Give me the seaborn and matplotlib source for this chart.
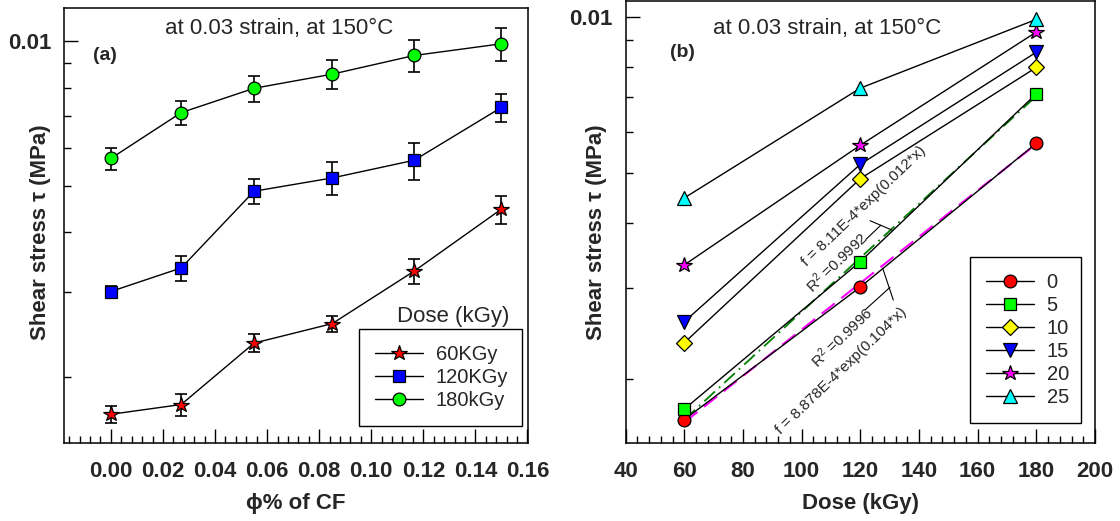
import numpy as np
import pandas as pd
import matplotlib
matplotlib.use("Agg")
import matplotlib.pyplot as plt
import seaborn as sns
from matplotlib.ticker import FixedLocator, MultipleLocator, LogLocator, NullFormatter, FixedFormatter

# ---------------- data ----------------
cf_content = [0.0, 0.027, 0.055, 0.085, 0.1165, 0.15]          # phi % of CF
stress_60 = [0.00167, 0.00175, 0.00235, 0.00258, 0.00332, 0.00447]
stress_120 = [0.00301, 0.00337, 0.00487, 0.00519, 0.00565, 0.00728]
stress_180 = [0.00570, 0.00710, 0.00798, 0.00854, 0.00934, 0.00988]
err_60 = [0.00007, 0.00009, 0.0001, 0.0001, 0.0002, 0.0003]
err_120 = [0.00008, 0.0002, 0.0003, 0.0004, 0.0005, 0.0005]
err_180 = [0.0003, 0.0004, 0.0005, 0.0006, 0.0007, 0.0008]
dose_labels_a = ["60KGy", "120KGy", "180kGy"]

doses = [60, 120, 180]
cf_labels_b = ["0", "5", "10", "15", "20", "25"]

fit_dose = [60, 180]
fit_0_vals = [0.00165, 0.00568]   # f = 8.878E-4*exp(0.104*x)
fit_5_vals = [0.00167, 0.00703]   # f = 8.11E-4*exp(0.012*x)

# ---------------- style ----------------
sns.set_theme(style="ticks")
plt.rcParams["font.family"] = ["Liberation Sans", "DejaVu Sans"]
plt.rcParams["mathtext.fontset"] = "custom"
plt.rcParams["mathtext.rm"] = "Liberation Sans"
plt.rcParams["mathtext.it"] = "Liberation Sans"
plt.rcParams["axes.linewidth"] = 1.1

fig = plt.figure(figsize=(11.2, 5.21), dpi=100)
axA = fig.add_axes([64 / 1120, 1 - 443.3 / 521, 464 / 1120, 435.3 / 521])
axB = fig.add_axes([625.7 / 1120, 1 - 443.3 / 521, 469.3 / 1120, 442.3 / 521])

TICK_FS = 16
LABEL_FS = 16
TXT_FS = 16
LEG_FS = 14.5


def style_axis(ax):
    ax.set_yscale("log")
    ax.yaxis.set_major_locator(FixedLocator([0.01]))
    ax.yaxis.set_major_formatter(FixedFormatter(["0.01"]))
    ax.yaxis.set_minor_locator(LogLocator(base=10, subs=np.arange(2, 10)))
    ax.yaxis.set_minor_formatter(NullFormatter())
    ax.tick_params(axis="both", which="both", direction="in", top=False, right=False,
                   color="black", width=1.0)
    ax.tick_params(axis="both", which="major", length=10)
    ax.tick_params(axis="both", which="minor", length=5)
    ax.tick_params(axis="x", which="major", pad=12.5, labelsize=TICK_FS)
    ax.tick_params(axis="y", which="major", pad=9.3, labelsize=TICK_FS)
    for sp in ax.spines.values():
        sp.set_color("black")
        sp.set_linewidth(1.1)
    ax.set_facecolor("white")


def bold_ticks(ax):
    for lab in ax.get_xticklabels() + ax.get_yticklabels():
        lab.set_fontweight("bold")


# ---------------- panel (a) ----------------
series_a = [
    (stress_60, err_60, "*", "#ff0000", 11.5),
    (stress_120, err_120, "s", "#0000ff", 8.7),
    (stress_180, err_180, "o", "#00ff00", 9.2),
]
for (vals, errs, mk, col, ms), lab in zip(series_a, dose_labels_a):
    axA.errorbar(cf_content, vals, yerr=errs, fmt="none", ecolor="black",
                 elinewidth=1.2, capsize=4.6, capthick=1.2, zorder=2)
    sns.lineplot(x=cf_content, y=vals, ax=axA, color="black", lw=1.0, marker=mk,
                 markersize=ms, markerfacecolor=col, markeredgecolor="black",
                 markeredgewidth=0.9, label=lab, zorder=3)

style_axis(axA)
axA.set_xlim(-0.018, 0.1602)
axA.set_ylim(0.001453, 0.01173)
xt = np.round(np.arange(0, 0.17, 0.02), 2)
axA.xaxis.set_major_locator(FixedLocator(xt))
axA.xaxis.set_major_formatter(FixedFormatter([f"{v:.2f}" for v in xt]))
axA.xaxis.set_minor_locator(MultipleLocator(0.004))
bold_ticks(axA)

axA.set_xlabel("ϕ% of CF", fontsize=LABEL_FS, fontweight="bold", labelpad=8)
axA.set_ylabel("Shear stress τ (MPa)", fontsize=LABEL_FS, fontweight="bold")
axA.yaxis.set_label_coords(-0.028, 0.4843)
axA.text(0.4629, 0.953, "at 0.03 strain, at 150°C", transform=axA.transAxes,
         ha="center", va="center", fontsize=TXT_FS)
axA.text(0.0884, 0.892, "(a)", transform=axA.transAxes, ha="center", va="center",
         fontsize=14, fontweight="bold")
axA.text(0.8377, 0.2908, "Dose (kGy)", transform=axA.transAxes, ha="center",
         va="center", fontsize=TXT_FS)
legA = axA.legend(loc="lower left", bbox_to_anchor=(0.6358, 0.0397, 0.3504, 0.2222),
                  mode="expand", fontsize=LEG_FS, frameon=True, fancybox=False,
                  edgecolor="black", framealpha=1, borderpad=0.8, labelspacing=0.2,
                  handlelength=2.4, handletextpad=0.6, borderaxespad=0)
legA.get_frame().set_linewidth(1.0)

# ---------------- panel (b) ----------------
markers_b = ["o", "s", "D", "v", "*", "^"]
colors_b = ["#ff0000", "#00ff00", "#ffff00", "#0000ff", "#ff00ff", "#00ffff"]
sizes_b = [9.2, 8.7, 8.4, 10.5, 11.5, 10.5]
stress_table = pd.DataFrame({"60": stress_60, "120": stress_120, "180": stress_180},
                            index=cf_labels_b)
for i, lab in enumerate(cf_labels_b):
    vals = stress_table.loc[lab].values
    sns.lineplot(x=doses, y=vals, ax=axB, color="black", lw=1.0, marker=markers_b[i],
                 markersize=sizes_b[i], markerfacecolor=colors_b[i],
                 markeredgecolor="black", markeredgewidth=0.9, label=lab, zorder=3)

axB.plot(fit_dose, fit_5_vals, color="#008000", lw=1.3, dashes=(8, 3, 1, 3), zorder=2.5)
axB.plot(fit_dose, fit_0_vals, color="#ff00ff", lw=1.5, dashes=(8, 4), zorder=2.5)

style_axis(axB)
axB.set_xlim(40, 200)
axB.set_ylim(0.001503, 0.01072)
axB.xaxis.set_major_locator(MultipleLocator(20))
axB.xaxis.set_minor_locator(MultipleLocator(4))
bold_ticks(axB)
axB.set_xlabel("Dose (kGy)", fontsize=LABEL_FS, fontweight="bold", labelpad=8)
axB.set_ylabel("Shear stress τ (MPa)", fontsize=LABEL_FS, fontweight="bold")
axB.yaxis.set_label_coords(-0.040, 0.4766)
axB.text(0.4287, 0.9383, "at 0.03 strain, at 150°C", transform=axB.transAxes,
         ha="center", va="center", fontsize=TXT_FS)
axB.text(0.1219, 0.8839, "(b)", transform=axB.transAxes, ha="center", va="center",
         fontsize=14, fontweight="bold")

ANN_FS = 11
ROT = 44
axB.text(0.5078, 0.5354, "f = 8.11E-4*exp(0.012*x)", transform=axB.transAxes,
         ha="center", va="center", rotation=ROT, rotation_mode="anchor", fontsize=ANN_FS)
axB.text(0.4502, 0.4099, "R$^{2}$ =0.9992", transform=axB.transAxes,
         ha="center", va="center", rotation=ROT, rotation_mode="anchor", fontsize=ANN_FS)
axB.text(0.4613, 0.2403, "R$^{2}$ =0.9996", transform=axB.transAxes,
         ha="center", va="center", rotation=ROT, rotation_mode="anchor", fontsize=ANN_FS)
axB.text(0.4590, 0.1635, "f = 8.878E-4*exp(0.104*x)", transform=axB.transAxes,
         ha="center", va="center", rotation=ROT, rotation_mode="anchor", fontsize=ANN_FS)

leaders = [
    ((0.5206, 0.5033), (0.5668, 0.4823)),
    ((0.5120, 0.4612), (0.5434, 0.4929)),
    ((0.5476, 0.3957), (0.5702, 0.3240)),
    ((0.5099, 0.3014), (0.5632, 0.3527)),
]
for p0, p1 in leaders:
    axB.annotate("", xy=p1, xytext=p0, xycoords="axes fraction",
                 textcoords="axes fraction",
                 arrowprops=dict(arrowstyle="-", color="black", lw=0.8,
                                 shrinkA=0, shrinkB=0))

legB = axB.legend(loc="lower left", bbox_to_anchor=(0.7337, 0.04522, 0.2359, 0.379),
                  mode="expand", fontsize=LEG_FS, frameon=True, fancybox=False,
                  edgecolor="black", framealpha=1, borderpad=0.8, labelspacing=0.2,
                  handlelength=2.4, handletextpad=0.6, borderaxespad=0)
legB.get_frame().set_linewidth(1.0)

fig.savefig("out.png", dpi=100, facecolor="white")
